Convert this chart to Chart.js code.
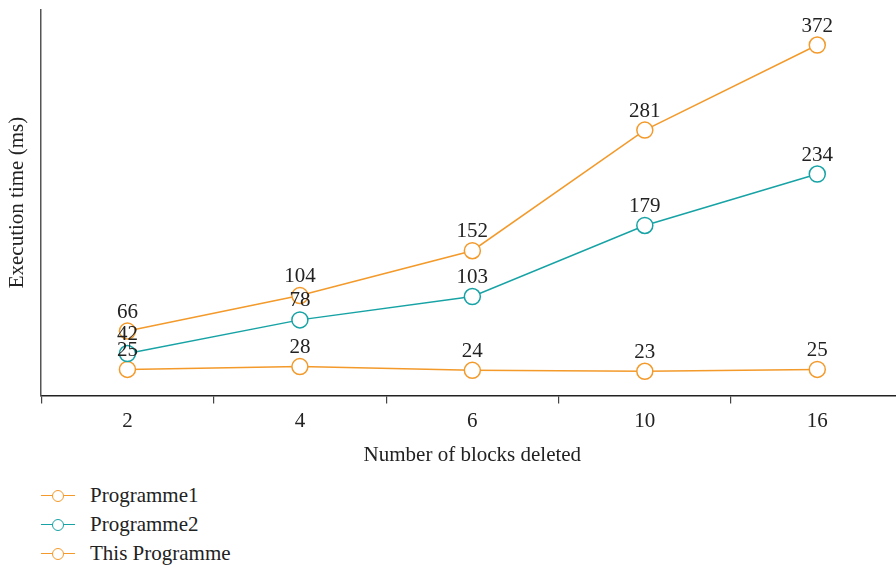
<!DOCTYPE html>
<html>
<head>
<meta charset="utf-8">
<script src="https://cdn.jsdelivr.net/npm/chart.js@4/dist/chart.umd.min.js"></script>
<style>
  html, body { margin: 0; padding: 0; background: #fff; overflow: hidden; }
  #wrap { position: absolute; left: 0; top: 0; width: 913px; height: 468px; }
  #legend { position: absolute; left: 41px; top: 481px; font-family: 'Liberation Serif', serif; font-size: 21px; color: #222; }
  .item { height: 29px; display: flex; align-items: center; }
  .mark { position: relative; width: 34px; height: 12px; margin-right: 15px; }
  .mark .ln { position: absolute; left: 0; right: 0; top: 5px; height: 0; border-top: 1.5px solid; }
  .mark .dot { position: absolute; left: 11px; top: 0; width: 10px; height: 10px; border: 1.5px solid; border-radius: 50%; background: #fff; }
</style>
</head>
<body>
<div id="wrap"><canvas id="myChart"></canvas></div>
<div id="legend"></div>
<script>
'use strict';

const blocks = ['2', '4', '6', '10', '16'];
const programme1 = [66, 104, 152, 281, 372];
const programme2 = [42, 78, 103, 179, 234];
const thisProgramme = [25, 28, 24, 23, 25];

const seriesNames = ['Programme1', 'Programme2', 'This Programme'];
const seriesColors = ['#f39a2b', '#17a3a5', '#f39a2b'];

const fontFamily = "'Liberation Serif', serif";

// value labels above every point
const valueLabels = {
  id: 'valueLabels',
  afterDatasetsDraw(chart) {
    const ctx = chart.ctx;
    ctx.save();
    ctx.font = '21px ' + fontFamily;
    ctx.fillStyle = '#222';
    ctx.textAlign = 'center';
    ctx.textBaseline = 'middle';
    chart.data.datasets.forEach(function (ds, i) {
      const meta = chart.getDatasetMeta(i);
      meta.data.forEach(function (pt, j) {
        ctx.fillText(String(ds.data[j]), pt.x, pt.y - 19);
      });
    });
    ctx.restore();
  }
};

function makeDataset(i, values) {
  return {
    label: seriesNames[i],
    data: values,
    borderColor: seriesColors[i],
    backgroundColor: '#fff',
    borderWidth: 1.5,
    pointRadius: 8,
    pointHoverRadius: 8,
    pointBorderWidth: 1.5,
    pointBackgroundColor: '#fff',
    tension: 0
  };
}

const chartObj = new Chart(document.getElementById('myChart'), {
  type: 'line',
  data: {
    labels: blocks,
    datasets: [
      makeDataset(0, programme1),
      makeDataset(1, programme2),
      makeDataset(2, thisProgramme)
    ]
  },
  options: {
    responsive: true,
    maintainAspectRatio: false,
    animation: false,
    layout: { padding: { left: 5, top: 8, right: 0, bottom: 0 } },
    plugins: {
      legend: { display: false },
      tooltip: { enabled: false }
    },
    scales: {
      x: {
        offset: true,
        grid: { display: true, offset: true, drawOnChartArea: false, tickLength: 8, color: '#444', lineWidth: 1.2 },
        border: { display: true, color: '#222', width: 1.5 },
        ticks: { color: '#222', font: { family: fontFamily, size: 21 }, padding: 5 },
        title: { display: true, text: 'Number of blocks deleted', color: '#222', font: { family: fontFamily, size: 21 }, padding: { top: 4, bottom: 0 } }
      },
      y: {
        min: -3,
        max: 410,
        grid: { display: false },
        border: { display: true, color: '#555', width: 1.5 },
        ticks: { display: false },
        title: { display: true, text: 'Execution time (ms)', color: '#222', font: { family: fontFamily, size: 21 }, padding: { top: 0, bottom: 3 } }
      }
    }
  },
  plugins: [valueLabels]
});

// html legend stacked on the left
const legendEl = document.getElementById('legend');
seriesNames.forEach(function (name, i) {
  const item = document.createElement('div');
  item.className = 'item';
  item.innerHTML = '<span class="mark"><span class="ln" style="border-color:' + seriesColors[i] + '"></span>' +
    '<span class="dot" style="border-color:' + seriesColors[i] + '"></span></span><span>' + name + '</span>';
  legendEl.appendChild(item);
});
</script>
</body>
</html>
